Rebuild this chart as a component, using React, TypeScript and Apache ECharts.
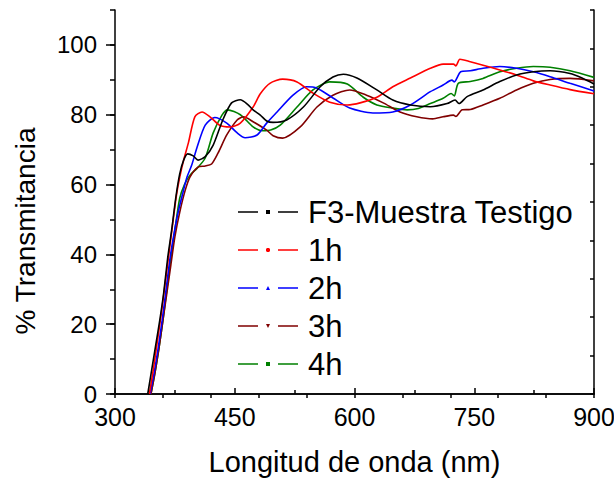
import React, { useEffect, useRef } from "react";
import * as echarts from "echarts";

const seriesNames = ["F3-Muestra Testigo", "1h", "2h", "3h", "4h"];
const seriesColors = ["#000000", "#ff0000", "#0000ff", "#800000", "#008000"];

const testigo = [
  [341, 0], [346, 7], [351, 14], [356, 21], [361, 29], [366, 39], [371, 47], [376, 56], [381, 63],
  [386, 67], [391, 68.8], [398, 68.2], [404, 67], [413, 68], [423, 71.3], [435, 78.5], [446, 83.4],
  [457, 84.3], [466, 83], [473, 81.4], [482, 79.9], [490, 78.2], [498, 77.8], [515, 78.5], [536, 82.2],
  [557, 88], [573, 90.8], [586, 91.6], [603, 90.5], [628, 87.1], [648, 84.2], [670, 82.8], [695, 82.3],
  [716, 83.2], [726, 84.2], [731, 83.2], [741, 85.2], [761, 87.1], [782, 89.5], [803, 91.4], [824, 92.3],
  [845, 92.6], [870, 91.8], [885, 90.5], [900, 88.8],
];
const h1 = [
  [343, 0], [348, 7], [353, 15], [358, 23], [363, 32], [368, 41], [373, 50], [377, 57], [381, 62],
  [386, 67], [392, 72], [400, 79.4], [409, 80.8], [419, 79.4], [431, 77], [444, 76.5], [457, 77.6],
  [473, 82.2], [482, 86], [494, 89], [510, 90.2], [528, 89.4], [548, 86.2], [569, 83.6], [591, 82.8],
  [607, 83.4], [628, 85], [648, 88], [670, 90.5], [695, 93.3], [711, 94.5], [724, 94.5], [727, 94],
  [732, 95.9], [745, 95.2], [761, 94.2], [782, 92.8], [803, 91.4], [824, 89.7], [845, 88.5], [870, 87.2],
  [900, 86],
];
const h2 = [
  [344, 0], [349, 6], [354, 13], [359, 21], [364, 30], [369, 39], [374, 46], [379, 52], [385, 57.6],
  [390, 62], [396, 65.5], [403, 70.8], [413, 77], [425, 79.2], [440, 77.6], [452, 75], [463, 73.4],
  [478, 74.2], [490, 77.6], [503, 80.8], [523, 85.6], [540, 88], [553, 87.6], [573, 84.8], [594, 81.9],
  [623, 80.5], [648, 80.8], [670, 82.8], [695, 86.6], [711, 88.5], [722, 89.9], [725, 89.4], [733, 92.3],
  [745, 92.6], [761, 93.3], [782, 93.8], [803, 93.3], [824, 92.3], [845, 90.9], [870, 89], [900, 86.8],
];
const h3 = [
  [345, 0], [350, 6], [355, 13], [360, 21], [365, 29], [370, 37], [375, 45], [381, 52], [388, 58.4],
  [394, 62.2], [404, 65], [413, 65.3], [421, 65.9], [429, 69], [440, 74.2], [453, 78.5], [461, 79.4],
  [473, 78], [490, 75.6], [498, 74], [510, 73.3], [532, 76.5], [553, 82.2], [573, 85.6], [594, 87.1],
  [615, 85.6], [636, 83.4], [657, 80.8], [678, 79.4], [698, 78.8], [711, 79.4], [724, 79.9], [727, 79.5],
  [735, 81.4], [745, 81.5], [761, 82.8], [782, 84.7], [803, 87.1], [824, 89], [845, 90.1], [870, 90.4],
  [900, 89.7],
];
const h4 = [
  [345, 0], [350, 6], [355, 13], [360, 21], [365, 30], [370, 39], [375, 47], [381, 56], [387, 60],
  [394, 62.7], [403, 64.7], [413, 67.6], [423, 74.8], [434, 79.9], [441, 81.4], [457, 80], [473, 76.5],
  [485, 75.4], [495, 75.6], [507, 77], [528, 82.2], [548, 87.1], [569, 89.4], [591, 88.8], [611, 85],
  [628, 82.8], [648, 81.9], [666, 81.4], [680, 81.8], [695, 83.2], [711, 84.7], [721, 86.1], [725, 85.4],
  [730, 89], [745, 89.5], [761, 90.4], [782, 92.3], [803, 93.3], [824, 93.8], [845, 93.6], [870, 92.6],
  [900, 90.7],
];
const seriesData = [testigo, h1, h2, h3, h4];

const xTicks = [300, 450, 600, 750, 900];
const yTickLabels = [0, 20, 40, 60, 80, 100];

const xTitle = "Longitud de onda (nm)";
const yTitle = "% Transmitancia";

const FONT = "'Liberation Sans', Arial, sans-serif";

const lines = "M0,1.2h20v1.6h-20z M40,1.2h20v1.6h-20z ";
const legendIcons = [
  "path://" + lines + "M28,0h4v4h-4z",
  "path://" + lines + "M29,0h2l1,1v2l-1,1h-2l-1,-1v-2z",
  "path://" + lines + "M28,4L30,0L32,4z",
  "path://" + lines + "M28,0L32,0L30,4z",
  "path://" + lines + "M28,0h4v4h-4z",
];

export default function App() {
  const ref = useRef<HTMLDivElement>(null);
  useEffect(() => {
    if (!ref.current) return;
    const chart = echarts.init(ref.current, null, { renderer: "svg" });
    const axisLine = { show: true, lineStyle: { color: "#000", width: 1.5 } };
    chart.setOption({
      animation: false,
      backgroundColor: "#fff",
      grid: { left: 115, right: 20, top: 10, bottom: 84, containLabel: false, outerBoundsMode: "none" },
      legend: {
        orient: "vertical",
        left: 238,
        top: 196,
        padding: 0,
        itemWidth: 60,
        itemHeight: 4,
        itemGap: 6,
        data: seriesNames.map((n, i) => ({ name: n, icon: legendIcons[i] })),
        textStyle: { fontFamily: FONT, fontSize: 31, color: "#000", lineHeight: 32, padding: [0, 0, 0, 5] },
        selectedMode: false,
      },
      xAxis: [
        {
          type: "value",
          min: xTicks[0],
          max: xTicks[xTicks.length - 1],
          interval: 150,
          position: "bottom",
          name: xTitle,
          nameLocation: "middle",
          nameGap: 53,
          nameTextStyle: { fontFamily: FONT, fontSize: 29, color: "#000" },
          axisLine,
          axisTick: { show: true, inside: true, length: 6, lineStyle: { color: "#000", width: 1.5 } },
          minorTick: { show: true, splitNumber: 2, length: 4, lineStyle: { color: "#000", width: 1.5 } },
          axisLabel: { fontFamily: FONT, fontSize: 25, color: "#000", margin: 10 },
          splitLine: { show: false },
        },
        {
          type: "value",
          min: 0,
          max: 10,
          interval: 1,
          position: "top",
          axisLine,
          axisTick: { show: true, inside: true, length: 4, lineStyle: { color: "#000", width: 1.5 } },
          axisLabel: { show: false },
          splitLine: { show: false },
        },
      ],
      yAxis: [
        {
          type: "value",
          min: 0,
          max: 110,
          interval: 10,
          position: "left",
          axisLine,
          axisTick: { show: true, inside: false, length: 5, lineStyle: { color: "#000", width: 1.5 } },
          axisLabel: {
            fontFamily: FONT,
            fontSize: 24,
            color: "#000",
            margin: 18,
            formatter: (v: number) => (yTickLabels.includes(v) ? String(v) : ""),
          },
          splitLine: { show: false },
        },
        {
          type: "value",
          min: 0,
          max: 110,
          interval: 20,
          position: "left",
          axisLine: { show: false },
          axisTick: {
            show: true,
            inside: false,
            length: 9,
            customValues: yTickLabels,
            lineStyle: { color: "#000", width: 1.5 },
          },
          axisLabel: { show: false },
          splitLine: { show: false },
        },
        {
          type: "value",
          min: 0,
          max: 10,
          interval: 1,
          position: "right",
          axisLine,
          axisTick: { show: true, inside: true, length: 4, lineStyle: { color: "#000", width: 1.5 } },
          axisLabel: { show: false },
          splitLine: { show: false },
        },
      ],
      graphic: [
        {
          type: "text",
          x: 25,
          y: 231,
          rotation: Math.PI / 2,
          style: {
            text: yTitle,
            font: `28px ${FONT}`,
            fill: "#000",
            textAlign: "center",
            textVerticalAlign: "middle",
          },
        },
      ],
      series: seriesData.map((d, i) => ({
        name: seriesNames[i],
        type: "line",
        xAxisIndex: 0,
        yAxisIndex: 0,
        data: d,
        showSymbol: false,
        smooth: 0.25,
        lineStyle: { color: seriesColors[i], width: 1.6 },
        itemStyle: { color: seriesColors[i] },
        z: 10 - i,
      })),
    });
    return () => chart.dispose();
  }, []);
  return (
    <div
      ref={ref}
      style={{ position: "fixed", left: 0, top: 0, width: 614, height: 478, background: "#fff" }}
    />
  );
}
